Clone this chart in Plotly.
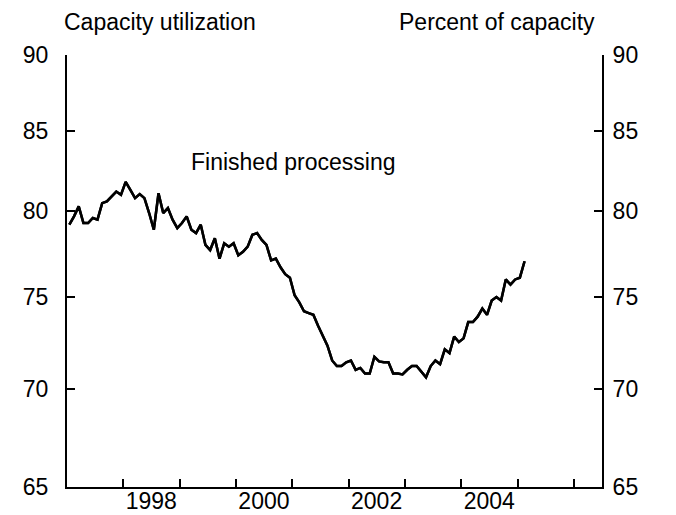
import math
import plotly.graph_objects as go

# Monthly capacity utilization, finished processing (percent), Jan 1997 onward
start_year = 1997
values = [
    79.2, 79.7, 80.3, 79.3, 79.3, 79.6, 79.5, 80.5, 80.6, 80.9, 81.2, 81.0,
    81.8, 81.3, 80.8, 81.05, 80.8, 79.9, 78.9, 81.1, 79.9, 80.2, 79.5, 79.0,
    79.3, 79.7, 78.9, 78.7, 79.2, 78.0, 77.7, 78.4, 77.2, 78.1, 77.9, 78.1,
    77.4, 77.6, 77.9, 78.6, 78.7, 78.3, 78.0, 77.1, 77.2, 76.7, 76.3, 76.1,
    75.1, 74.7, 74.2, 74.1, 74.0, 73.4, 72.8, 72.3, 71.5, 71.2, 71.2, 71.4,
    71.5, 71.0, 71.1, 70.8, 70.8, 71.7, 71.45, 71.4, 71.4, 70.8, 70.8, 70.75,
    71.0, 71.2, 71.2, 70.9, 70.6, 71.2, 71.5, 71.3, 72.1, 71.9, 72.8, 72.5,
    72.7, 73.6, 73.6, 73.9, 74.35, 74.0, 74.8, 75.0, 74.8, 76.0, 75.7, 76.0,
    76.1, 77.05,
]
dates = [start_year + (i + 0.5) / 12 for i in range(len(values))]

y_ticks = [65, 70, 75, 80, 85, 90]
x_tick_years = [1998, 1999, 2000, 2001, 2002, 2003, 2004, 2005, 2006]
x_tick_text = ["1998", "", "2000", "", "2002", "", "2004", "", ""]
x_range = [1997.0, 2006.5]
y_range = [math.log10(65), math.log10(90)]

FONT = "Liberation Sans, Arial, Helvetica, sans-serif"
FS = 23

yax_common = dict(type="log", range=y_range, showgrid=False, zeroline=False,
                  showline=True, linecolor="black", linewidth=2,
                  ticks="inside", ticklen=8, tickwidth=2, tickcolor="black",
                  tickvals=y_ticks, ticktext=[str(v) for v in y_ticks],
                  tickfont=dict(size=FS), automargin=False)

fig = go.Figure()
fig.add_trace(go.Scatter(x=dates, y=values, mode="lines",
                         line=dict(color="black", width=2.5),
                         xaxis="x", yaxis="y", showlegend=False))
# same series on the right-hand axis (identical scale) so it is rendered
fig.add_trace(go.Scatter(x=dates, y=values, mode="lines",
                         line=dict(color="black", width=2.5),
                         xaxis="x", yaxis="y2", showlegend=False,
                         hoverinfo="skip"))

fig.update_layout(
    template="none",
    width=668, height=507,
    margin=dict(l=59, r=74, t=47, b=28, pad=0),
    paper_bgcolor="white", plot_bgcolor="white",
    font=dict(family=FONT, size=FS, color="black"),
    showlegend=False,
    xaxis=dict(range=x_range, showgrid=False, zeroline=False,
               showline=True, linecolor="black", linewidth=2,
               ticks="inside", ticklen=8, tickwidth=2, tickcolor="black",
               tickvals=x_tick_years, ticktext=x_tick_text,
               ticklabelshift=28, ticklabelstandoff=-8,
               tickfont=dict(size=FS), automargin=False),
    yaxis=dict(**yax_common, ticklabelstandoff=12),
    yaxis2=dict(**yax_common, overlaying="y", side="right", anchor="x",
                ticklabelstandoff=4),
    annotations=[
        dict(text="Capacity utilization", xref="paper", yref="paper",
             x=-0.01, y=1.0, yshift=33, xanchor="left", yanchor="middle",
             showarrow=False, font=dict(size=FS)),
        dict(text="Percent of capacity", xref="paper", yref="paper",
             x=0.99, y=1.0, yshift=33, xanchor="right", yanchor="middle",
             showarrow=False, font=dict(size=FS)),
        dict(text="Finished processing", xref="x", yref="y",
             x=2001.03, y=math.log10(83.0), xanchor="center", yanchor="middle",
             showarrow=False, font=dict(size=FS)),
    ],
)

fig.write_html("out.html")
